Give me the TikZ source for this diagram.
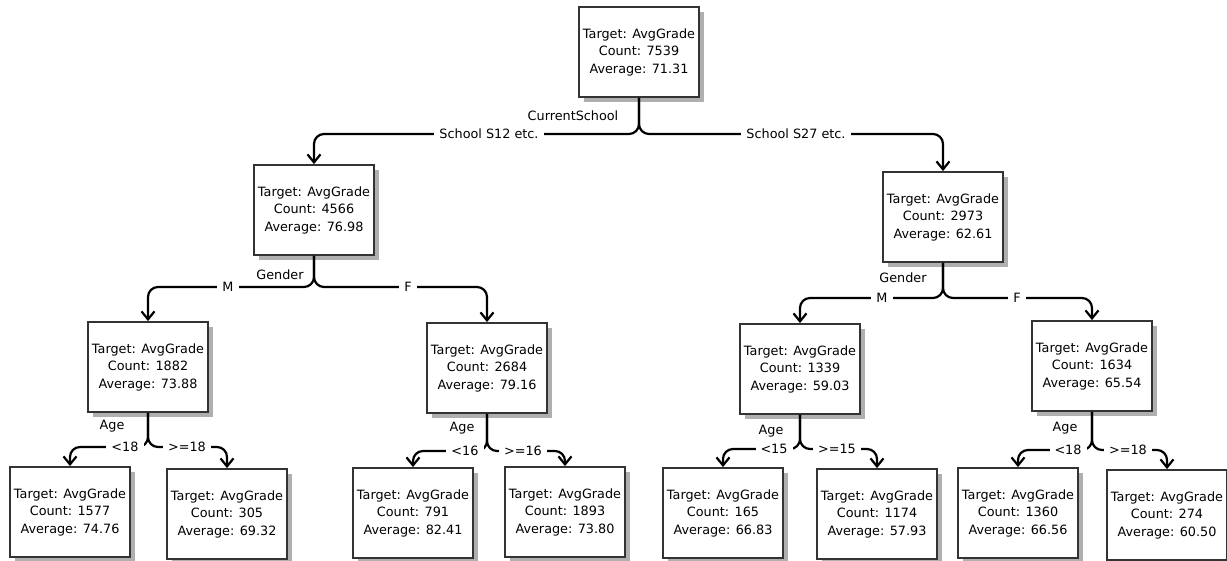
\documentclass[tikz,border=0pt]{standalone}
\usepackage{fontspec}
\setmainfont{DejaVu Sans}
\usetikzlibrary{arrows.meta,shadows}
\definecolor{boxborder}{HTML}{333333}
\definecolor{shadowgray}{HTML}{AFAFAF}
\begin{document}
\begin{tikzpicture}[x=1pt,y=-1pt,
  tbox/.style={draw=boxborder, line width=1.8pt, fill=white, minimum width=120pt, minimum height=90pt, align=center, inner sep=0pt, font=\fontsize{12.8}{17.5}\selectfont, general shadow={fill=shadowgray, shadow xshift=5pt, shadow yshift=-5pt}},
  conn/.style={line width=2.2pt, rounded corners=10pt, -{Straight Barb[length=8pt,width=13pt]}},
  lab/.style={fill=white, inner xsep=5pt, inner ysep=1pt, font=\fontsize{12.8}{15}\selectfont},
  cond/.style={inner sep=1pt, font=\fontsize{12.8}{15}\selectfont}]
\useasboundingbox (0,0) rectangle (1227,560);

% boxes
\node[tbox] (root) at (639,52) {Target: AvgGrade\\Count: 7539\\Average: 71.31};
\node[tbox] (a) at (314,210) {Target: AvgGrade\\Count: 4566\\Average: 76.98};
\node[tbox] (b) at (943,217) {Target: AvgGrade\\Count: 2973\\Average: 62.61};
\node[tbox] (aa) at (148,367) {Target: AvgGrade\\Count: 1882\\Average: 73.88};
\node[tbox] (ab) at (487,368) {Target: AvgGrade\\Count: 2684\\Average: 79.16};
\node[tbox] (ba) at (800,369) {Target: AvgGrade\\Count: 1339\\Average: 59.03};
\node[tbox] (bb) at (1092,366) {Target: AvgGrade\\Count: 1634\\Average: 65.54};
\node[tbox] (l1) at (70,512) {Target: AvgGrade\\Count: 1577\\Average: 74.76};
\node[tbox] (l2) at (227,514) {Target: AvgGrade\\Count: 305\\Average: 69.32};
\node[tbox] (l3) at (413,513) {Target: AvgGrade\\Count: 791\\Average: 82.41};
\node[tbox] (l4) at (565,512) {Target: AvgGrade\\Count: 1893\\Average: 73.80};
\node[tbox] (l5) at (723,513) {Target: AvgGrade\\Count: 165\\Average: 66.83};
\node[tbox] (l6) at (877,514) {Target: AvgGrade\\Count: 1174\\Average: 57.93};
\node[tbox] (l7) at (1018,513) {Target: AvgGrade\\Count: 1360\\Average: 66.56};
\node[tbox] (l8) at (1167,515) {Target: AvgGrade\\Count: 274\\Average: 60.50};

% connectors
\draw[conn] (root.south) -- (root.south |- 0,134) -- (a.north |- 0,134) -- (a.north);
\draw[conn] (root.south) -- (root.south |- 0,134) -- (b.north |- 0,134) -- (b.north);
\draw[conn] (a.south) -- (a.south |- 0,287) -- (aa.north |- 0,287) -- (aa.north);
\draw[conn] (a.south) -- (a.south |- 0,287) -- (ab.north |- 0,287) -- (ab.north);
\draw[conn] (b.south) -- (b.south |- 0,298) -- (ba.north |- 0,298) -- (ba.north);
\draw[conn] (b.south) -- (b.south |- 0,298) -- (bb.north |- 0,298) -- (bb.north);
\draw[conn] (aa.south) -- (aa.south |- 0,447) -- (l1.north |- 0,447) -- (l1.north);
\draw[conn] (aa.south) -- (aa.south |- 0,447) -- (l2.north |- 0,447) -- (l2.north);
\draw[conn] (ab.south) -- (ab.south |- 0,451) -- (l3.north |- 0,451) -- (l3.north);
\draw[conn] (ab.south) -- (ab.south |- 0,451) -- (l4.north |- 0,451) -- (l4.north);
\draw[conn] (ba.south) -- (ba.south |- 0,449) -- (l5.north |- 0,449) -- (l5.north);
\draw[conn] (ba.south) -- (ba.south |- 0,449) -- (l6.north |- 0,449) -- (l6.north);
\draw[conn] (bb.south) -- (bb.south |- 0,450) -- (l7.north |- 0,450) -- (l7.north);
\draw[conn] (bb.south) -- (bb.south |- 0,450) -- (l8.north |- 0,450) -- (l8.north);

% split attribute labels
\node[cond] (t0) at (573,116) {CurrentSchool};
\node[cond] (t1) at (280,275) {Gender};
\node[cond] (t2) at (903,278) {Gender};
\node[cond] (t3) at (112,426) {Age};
\node[cond] (t4) at (462,428) {Age};
\node[cond] (t5) at (771,431) {Age};
\node[cond] (t6) at (1065,428) {Age};

% branch labels
\node[lab] (e1) at (489,134) {School S12 etc.};
\node[lab] (e2) at (796,134) {School S27 etc.};
\node[lab] (e3) at (228,287) {M};
\node[lab] (e4) at (408,287) {F};
\node[lab] (e5) at (882,298) {M};
\node[lab] (e6) at (1017,298) {F};
\node[lab] (e7) at (125,447) {<18};
\node[lab] (e8) at (187,447) {>=18};
\node[lab] (e9) at (465,451) {<16};
\node[lab] (e10) at (523,451) {>=16};
\node[lab] (e11) at (774,449) {<15};
\node[lab] (e12) at (837,449) {>=15};
\node[lab] (e13) at (1068,450) {<18};
\node[lab] (e14) at (1128,450) {>=18};
\end{tikzpicture}
\end{document}
